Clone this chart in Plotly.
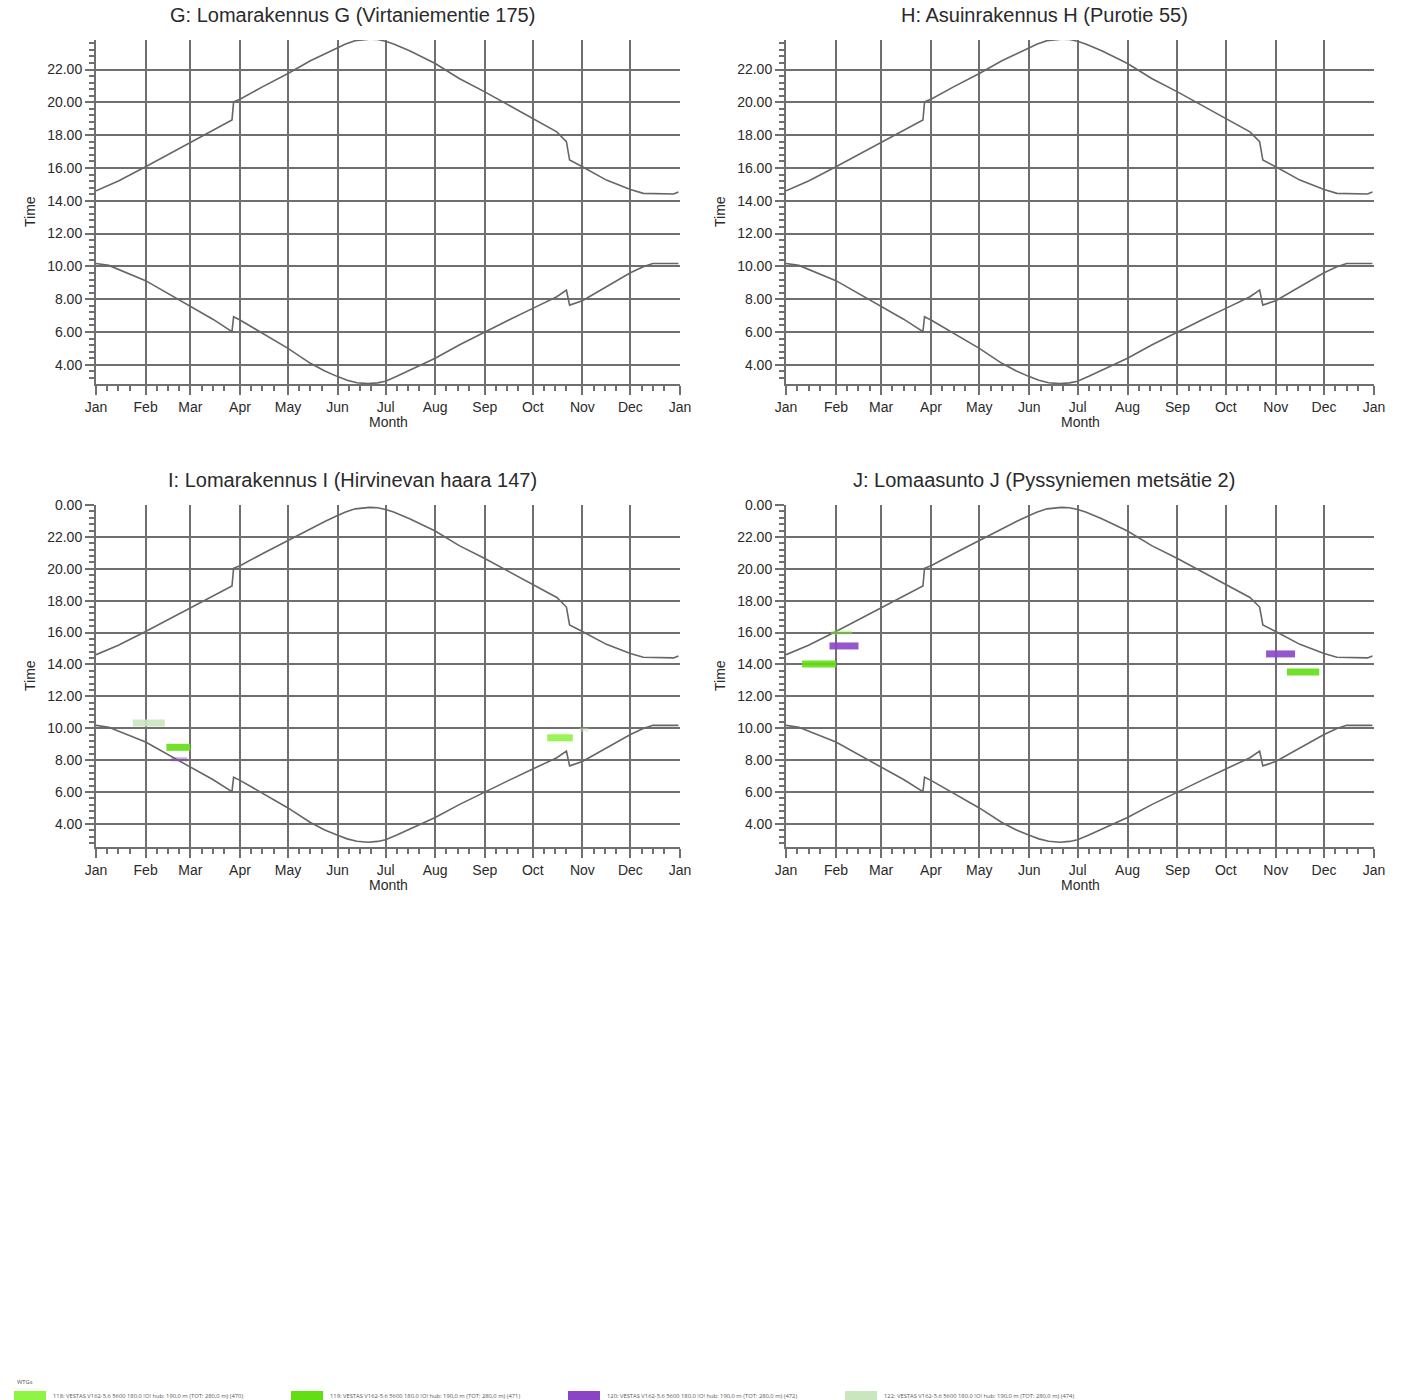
import numpy as np
import pandas as pd
import plotly.graph_objects as go

W, H = 1405, 1400

# ---------------- data ----------------
sunset_dates = ["2023-01-01", "2023-01-15", "2023-02-01", "2023-02-15", "2023-03-01", "2023-03-15",
                "2023-03-27", "2023-03-28", "2023-04-01", "2023-04-15", "2023-05-01", "2023-05-15",
                "2023-05-24", "2023-06-01", "2023-06-06", "2023-06-12", "2023-06-16", "2023-06-21",
                "2023-06-26", "2023-07-01", "2023-07-06", "2023-07-10", "2023-07-16",
                "2023-08-01", "2023-08-16", "2023-09-01", "2023-09-16", "2023-10-01", "2023-10-16",
                "2023-10-22", "2023-10-24", "2023-11-01", "2023-11-16", "2023-12-01", "2023-12-09",
                "2023-12-28", "2023-12-31"]
sunset_hours = [14.61, 15.20, 16.07, 16.80, 17.55, 18.28,
                18.92, 20.03, 20.19, 20.94, 21.76, 22.53,
                22.97, 23.34, 23.56, 23.76, 23.82, 23.85,
                23.83, 23.72, 23.56, 23.40, 23.14,
                22.37, 21.45, 20.64, 19.83, 19.02, 18.20,
                17.60, 16.48, 16.07, 15.26, 14.69, 14.45,
                14.41, 14.53]

sunrise_dates = ["2023-01-01", "2023-01-09", "2023-02-01", "2023-02-15", "2023-03-01", "2023-03-15",
                 "2023-03-27", "2023-03-28", "2023-04-01", "2023-04-15", "2023-05-01", "2023-05-15",
                 "2023-05-24", "2023-06-01", "2023-06-07", "2023-06-13", "2023-06-20", "2023-06-26",
                 "2023-07-01", "2023-07-08", "2023-07-16", "2023-08-01",
                 "2023-08-16", "2023-09-01", "2023-09-16", "2023-10-01", "2023-10-16", "2023-10-22",
                 "2023-10-24", "2023-11-01", "2023-11-16", "2023-12-01", "2023-12-09", "2023-12-15",
                 "2023-12-31"]
sunrise_hours = [10.18, 10.06, 9.13, 8.36, 7.54, 6.78,
                 6.02, 6.93, 6.73, 5.92, 5.00, 4.09,
                 3.62, 3.28, 3.06, 2.91, 2.85, 2.90,
                 3.00, 3.30, 3.68, 4.40,
                 5.21, 6.02, 6.73, 7.44, 8.15, 8.56,
                 7.64, 7.91, 8.76, 9.61, 9.98, 10.18,
                 10.18]

panel_titles = ["G: Lomarakennus G (Virtaniementie 175)",
                "H: Asuinrakennus H (Purotie 55)",
                "I: Lomarakennus I (Hirvinevan haara 147)",
                "J: Lomaasunto J (Pyssyniemen metsätie 2)"]

top_ticks = [4, 6, 8, 10, 12, 14, 16, 18, 20, 22]
top_ticktext = ["4.00", "6.00", "8.00", "10.00", "12.00", "14.00", "16.00", "18.00", "20.00", "22.00"]
bottom_ticks = [4, 6, 8, 10, 12, 14, 16, 18, 20, 22, 24]
bottom_ticktext = ["4.00", "6.00", "8.00", "10.00", "12.00", "14.00", "16.00", "18.00", "20.00", "22.00", "0.00"]

wtg_ids = ["118", "119", "120", "122"]
wtg_names = ["118: VESTAS V162-5.6 5600 180.0 !O! hub: 190,0 m (TOT: 280,0 m) (470)",
             "119: VESTAS V162-5.6 5600 180.0 !O! hub: 190,0 m (TOT: 280,0 m) (471)",
             "120: VESTAS V162-5.6 5600 180.0 !O! hub: 190,0 m (TOT: 280,0 m) (472)",
             "122: VESTAS V162-5.6 5600 180.0 !O! hub: 190,0 m (TOT: 280,0 m) (474)"]

# shadow flicker periods: panel index, turbine, start, end, time of day (h)
shadow_panel = [2, 2, 2, 3, 3, 3, 3]
shadow_wtg = ["122", "119", "118", "119", "120", "120", "119"]
shadow_start = ["2023-01-24", "2023-02-14", "2023-10-10", "2023-01-11", "2023-01-28", "2023-10-26", "2023-11-08"]
shadow_end = ["2023-02-13", "2023-03-01", "2023-10-26", "2023-02-01", "2023-02-15", "2023-11-13", "2023-11-28"]
shadow_hour = [10.33, 8.80, 9.40, 14.03, 15.16, 14.66, 13.53]

# weak (faint) shadow traces
faint_panel = [2, 2, 3]
faint_wtg = ["120", "122", "118"]
faint_start = ["2023-02-17", "2023-10-30", "2023-01-29"]
faint_end = ["2023-02-27", "2023-11-05", "2023-02-11"]
faint_hour = [8.05, 9.90, 16.00]

# ---------------- styling ----------------
wtg_colors = {"118": "#8ff545", "119": "#62de14", "120": "#8a45c6", "122": "#c9e6bf"}
GRID = "#6f6f6f"
CURVE = "#666666"
TXT = "#2a2a2a"
FONT = "Liberation Sans"


def px_x(p):
    return p / W


def px_y(p):
    return 1 - p / H


# panel pixel boxes: (left, right, top, bottom)
boxes = [(96, 680, 40, 384), (786, 1374, 40, 384), (96, 680, 505, 847), (786, 1374, 505, 847)]
yranges = [[2.83, 23.80], [2.83, 23.80], [2.55, 24.0], [2.55, 24.0]]

# minor x ticks: 8th, 15th, 22nd of each month
minor_x = []
for m in pd.date_range("2023-01-01", "2023-12-01", freq="MS"):
    for d in (7, 14, 21):
        minor_x.append((m + pd.Timedelta(days=d)).strftime("%Y-%m-%d"))
minor_y = [round(v, 2) for v in np.arange(2.8, 24.01, 0.4)]

fig = go.Figure()
layout = dict(width=W, height=H, margin=dict(l=0, r=0, t=0, b=0, pad=0, autoexpand=False),
              paper_bgcolor="white", plot_bgcolor="white", showlegend=False,
              font=dict(family=FONT, color=TXT))

annotations = []
shapes = []

for i, (l, r, t, b) in enumerate(boxes):
    xa = "xaxis" if i == 0 else f"xaxis{i + 1}"
    ya = "yaxis" if i == 0 else f"yaxis{i + 1}"
    xr = "x" if i == 0 else f"x{i + 1}"
    yr = "y" if i == 0 else f"y{i + 1}"
    top = i < 2
    layout[xa] = dict(domain=[px_x(l), px_x(r)], anchor=yr, type="date", automargin=False,
                      range=["2023-01-01", "2024-01-01"], dtick="M1", tick0="2023-01-01",
                      tickformat="%b", ticks="outside", ticklen=9, tickwidth=1.5, tickcolor=GRID,
                      showgrid=True, gridcolor=GRID, gridwidth=2,
                      showline=True, linecolor=GRID, linewidth=2, zeroline=False,
                      tickfont=dict(size=14, color=TXT, family=FONT),
                      minor=dict(tickmode="array", tickvals=minor_x, ticks="outside", ticklen=5,
                                 tickwidth=1.5, tickcolor=GRID, showgrid=False),
                      fixedrange=True)
    layout[ya] = dict(domain=[px_y(b), px_y(t)], anchor=xr, range=yranges[i], automargin=False,
                      tickmode="array",
                      tickvals=top_ticks if top else bottom_ticks,
                      ticktext=top_ticktext if top else bottom_ticktext,
                      ticks="outside", ticklen=9, tickwidth=1.5, tickcolor=GRID,
                      showgrid=True, gridcolor=GRID, gridwidth=2,
                      showline=True, linecolor=GRID, linewidth=2, zeroline=False,
                      tickfont=dict(size=14, color=TXT, family=FONT),
                      minor=dict(tickmode="array", tickvals=minor_y, ticks="outside", ticklen=5,
                                 tickwidth=1.5, tickcolor=GRID, showgrid=False),
                      fixedrange=True)

    fig.add_trace(go.Scatter(x=sunset_dates, y=sunset_hours, mode="lines", xaxis=xr, yaxis=yr,
                             line=dict(color=CURVE, width=1.6), hoverinfo="skip"))
    fig.add_trace(go.Scatter(x=sunrise_dates, y=sunrise_hours, mode="lines", xaxis=xr, yaxis=yr,
                             line=dict(color=CURVE, width=1.6), hoverinfo="skip"))

    for p, w, s, e, h in zip(faint_panel, faint_wtg, faint_start, faint_end, faint_hour):
        if p == i:
            fig.add_trace(go.Scatter(x=[s, e], y=[h, h], mode="lines", xaxis=xr, yaxis=yr,
                                     opacity=0.45, line=dict(color=wtg_colors[w], width=4),
                                     hoverinfo="skip"))
    for p, w, s, e, h in zip(shadow_panel, shadow_wtg, shadow_start, shadow_end, shadow_hour):
        if p == i:
            fig.add_trace(go.Scatter(x=[s, e], y=[h, h], mode="lines", xaxis=xr, yaxis=yr,
                                     opacity=0.9, line=dict(color=wtg_colors[w], width=7),
                                     hoverinfo="skip"))

    cx = l - 36 + (r - l) / 2
    annotations.append(dict(text=panel_titles[i], x=px_x(cx), y=px_y(t - 25),
                            xref="paper", yref="paper", showarrow=False, xanchor="center",
                            yanchor="middle", font=dict(size=20, color=TXT, family=FONT)))
    annotations.append(dict(text="Time", x=px_x(l - 66), y=px_y((t + b) / 2), xref="paper",
                            yref="paper", showarrow=False, textangle=-90, xanchor="center",
                            yanchor="middle", font=dict(size=14, color=TXT, family=FONT)))
    annotations.append(dict(text="Month", x=px_x((l + r) / 2), y=px_y(b + 38), xref="paper",
                            yref="paper", showarrow=False, xanchor="center", yanchor="middle",
                            font=dict(size=14, color=TXT, family=FONT)))

# legend at the bottom
annotations.append(dict(text="WTGs", x=px_x(15), y=px_y(1382), xref="paper", yref="paper",
                        showarrow=False, xanchor="left", yanchor="middle",
                        font=dict(size=5.8, color="#555555", family="Open Sans")))
for k, (wid, name) in enumerate(zip(wtg_ids, wtg_names)):
    x0 = 14 + 277 * k
    shapes.append(dict(type="rect", xref="paper", yref="paper", x0=px_x(x0), x1=px_x(x0 + 32),
                       y0=px_y(1400), y1=px_y(1391), line=dict(width=0),
                       fillcolor=wtg_colors[wid]))
    annotations.append(dict(text=name, x=px_x(x0 + 37), y=px_y(1396), xref="paper", yref="paper",
                            showarrow=False, xanchor="left", yanchor="middle",
                            font=dict(size=5.8, color="#555555", family="Open Sans")))

layout["annotations"] = annotations
layout["shapes"] = shapes
fig.update_layout(**layout)

fig.write_html("out.html", config={"displayModeBar": False},
               post_script="document.body.style.margin='0';document.body.style.overflow='hidden';")
